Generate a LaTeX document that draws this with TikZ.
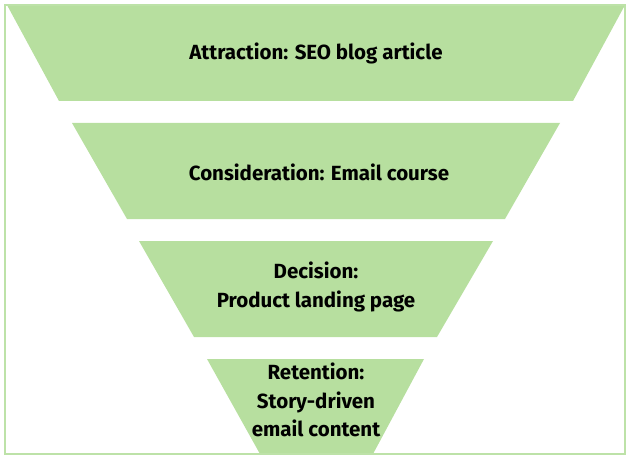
\documentclass[tikz,border=0pt]{standalone}
\usepackage{fontspec}
\setmainfont{Fira Sans}
\usepackage{xcolor}
\usepackage{tikz}
\usetikzlibrary{positioning,calc}
\definecolor{funnel}{HTML}{B7DF9F}
\definecolor{rim}{HTML}{BDE2A8}
\tikzset{
  stage/.style={fill=funnel,draw=none},
  lbl/.style={align=center,font=\bfseries\fontsize{20.5}{28.5}\selectfont,text=black,inner sep=0pt},
  frame/.style={draw=rim,line width=2pt},
}

\begin{document}
\begin{tikzpicture}[x=1pt,y=-1pt]
  \useasboundingbox (0,0) rectangle (633,460);
  % funnel stages, top to bottom
  \fill[stage] (7,5) coordinate (a1) -- (625,5) coordinate (a2) -- (573,101) coordinate (a3) -- (59,101) coordinate (a4) -- cycle;
  \fill[stage] (72,123) coordinate (b1) -- (560,123) coordinate (b2) -- (505,219) coordinate (b3) -- (127,219) coordinate (b4) -- cycle;
  \fill[stage] (139,241) coordinate (c1) -- (493,241) coordinate (c2) -- (437,337) coordinate (c3) -- (194,337) coordinate (c4) -- cycle;
  \fill[stage] (207,359) coordinate (d1) -- (424,359) coordinate (d2) -- (373,454) coordinate (d3) -- (260,454) coordinate (d4) -- cycle;
  \node[lbl] (attr) at (316,53) {Attraction: SEO blog article};
  \node[lbl] (cons) at (319,172) {Consideration: Email course};
  \node[lbl] (deci) at (316,287) {Decision:\\Product landing page};
  \node[lbl] (rete) at (316,400) {Retention:\\Story-driven\\email content};
  \draw[frame] (5,5) rectangle (625,454);
\end{tikzpicture}
\end{document}
